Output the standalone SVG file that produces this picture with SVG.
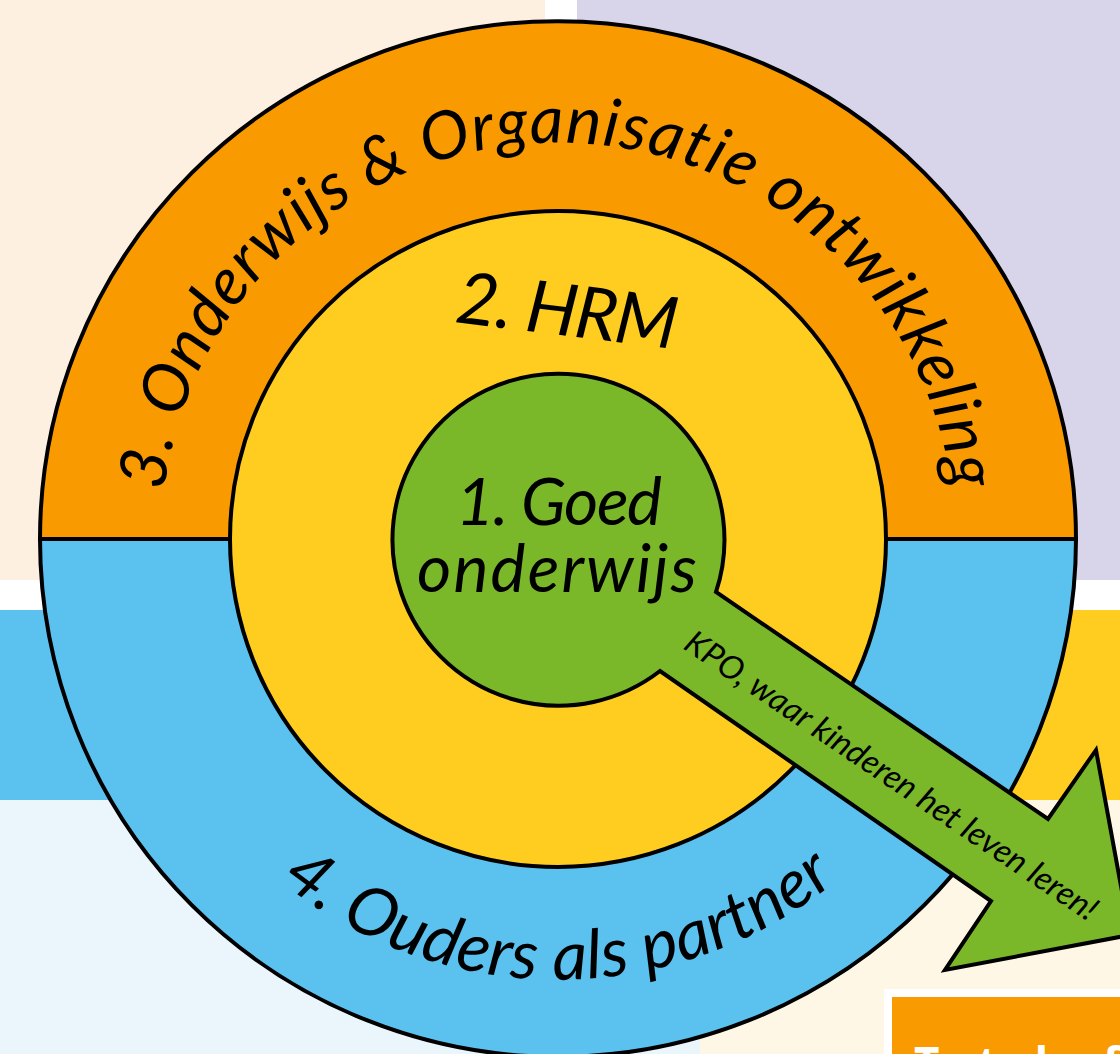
<svg xmlns="http://www.w3.org/2000/svg" width="1120" height="1054" viewBox="0 0 1120 1054">
<style>
.o{stroke:#000;stroke-width:4;stroke-linejoin:miter}
.h{font-family:"Lato","Liberation Sans",sans-serif;fill:#000;font-style:italic;font-variant-ligatures:none}
</style>
<defs>
<path id="p3" d="M 164 491 A 397 397 0 0 1 952 491"/>
<path id="p4" d="M 280 881 A 441 441 0 0 0 836 881"/>
</defs>
<g id="background">
<rect width="1120" height="1054" fill="#fff"/>
<rect x="0" y="0" width="545" height="580" fill="#fdf0e1"/>
<rect x="577" y="0" width="543" height="580" fill="#d8d4e9"/>
<rect x="0" y="610" width="1120" height="190" fill="#5bc1ee"/>
<rect x="700" y="610" width="420" height="190" fill="#ffcd20"/>
<rect x="0" y="800" width="700" height="254" fill="#eaf5fc"/>
<rect x="700" y="800" width="420" height="254" fill="#fff7e6"/>
<rect x="884" y="989" width="236" height="65" fill="#fff"/>
<rect x="892" y="997" width="228" height="57" fill="#f99b00"/>
<text x="914" y="1079" font-family="Open Sans,sans-serif" font-weight="700" font-size="44" fill="#fff" textLength="206">Tot de f</text>
</g>
<g id="ring-outer">
<path class="o" fill="#f99b00" d="M 40 539 A 518 518 0 0 1 1076 539 Z"/>
<path class="o" fill="#5bc1ee" d="M 40 539 A 518 518 0 0 0 1076 539 Z"/>
<text class="h" font-size="66"><textPath href="#p3" textLength="1148" lengthAdjust="spacing">3. Onderwijs &amp; Organisatie ontwikkeling</textPath></text>
<text class="h" font-size="68"><textPath href="#p4" textLength="602" lengthAdjust="spacing">4. Ouders als partner</textPath></text>
</g>
<g id="ring-middle">
<circle class="o" cx="558" cy="539" r="328" fill="#ffcd20"/>
<text class="h" font-size="72" transform="translate(454 322) rotate(7)" textLength="222">2. HRM</text>
</g>
<g id="connectors"></g>
<g id="center">
<path class="o" fill="#7ab829" d="M 716 592 A 166 166 0 1 0 660 671 L 991 901 L 945 970 L 1130 935 L 1096 750 L 1048 819 Z"/>
<text class="h" font-size="66" x="456" y="525" textLength="206">1. Goed</text>
<text class="h" font-size="66" x="417" y="592" textLength="280">onderwijs</text>
<text class="h" font-size="33" transform="translate(682 648) rotate(34)" textLength="490">KPO, waar kinderen het leven leren!</text>
</g>
</svg>
